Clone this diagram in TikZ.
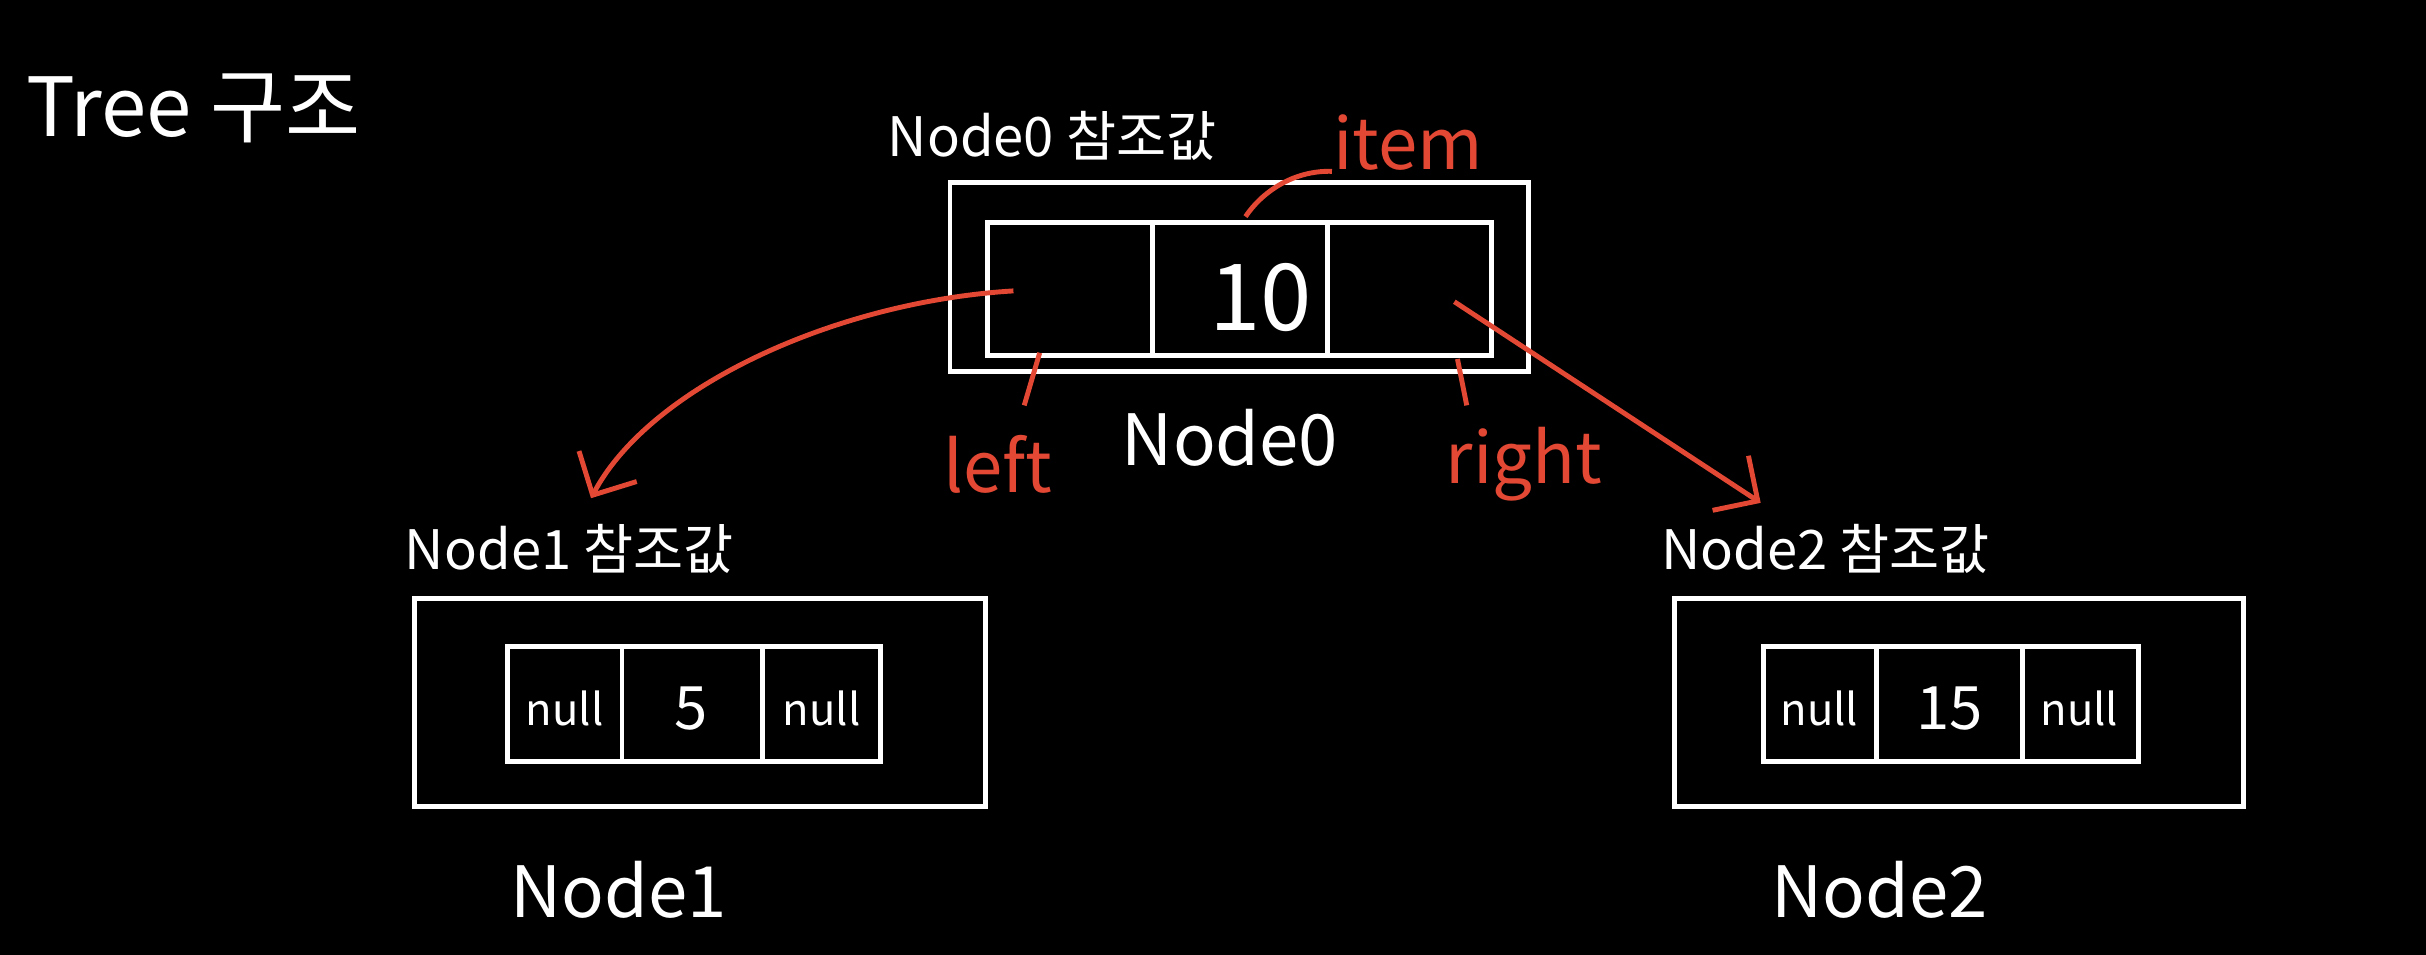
\documentclass[tikz,border=0pt]{standalone}
\usepackage{fontspec}
\setmainfont{Noto Sans CJK KR}
\usetikzlibrary{arrows.meta}
\definecolor{pen}{RGB}{226,72,52}
\begin{document}
\begin{tikzpicture}[x=0.01cm,y=-0.01cm,
  box/.style={draw=white,line width=0.9pt},
  wtxt/.style={text=white,font=\fontsize{13}{15}\selectfont,inner sep=0pt},
  rtxt/.style={text=pen,font=\fontsize{13}{15}\selectfont,inner sep=0pt},
  rline/.style={draw=pen,line width=0.9pt},
  cell/.style={text=white,font=\fontsize{8}{10}\selectfont,inner sep=0pt}]
\fill[black] (0,0) rectangle (1568,617);
\useasboundingbox (0,0) rectangle (1568,617);
\node[wtxt,font=\fontsize{15}{17}\selectfont] (title) at (125,70) {Tree 구조};
% Node0
\node[wtxt,font=\fontsize{10}{12}\selectfont] (l0) at (680,88) {Node0 참조값};
\draw[box] (614,118) rectangle (988,240);
\draw[box] (638,144) rectangle (964,230);
\draw[box] (745,144) -- (745,230) (858,144) -- (858,230);
\node[wtxt,font=\fontsize{17}{19}\selectfont] (v0) at (815,192) {10};
\node[wtxt] (n0) at (795,283) {Node0};
\node[rtxt] (item) at (910,92) {item};
\node[rtxt] (left) at (645,300) {left};
\node[rtxt] (right) at (985,300) {right};
\coordinate (itemA) at (805,140);
\coordinate (leftA) at (672,228);
\coordinate (leftB) at (662,262);
\coordinate (rightA) at (942,232);
\coordinate (rightB) at (948,262);
\coordinate (lp) at (655,188);
\coordinate (rp) at (940,195);
\coordinate (lt) at (382,322);
\coordinate (rt) at (1138,325);
\draw[rline] (itemA) .. controls (815,125) and (835,110) .. (item.south west);
\draw[rline] (leftA) -- (leftB);
\draw[rline] (rightA) -- (rightB);
% Node1
\node[wtxt,font=\fontsize{10}{12}\selectfont] (l1) at (368,355) {Node1 참조값};
\draw[box] (268,387) rectangle (637,521);
\draw[box] (328,418) rectangle (569,492);
\draw[box] (402,418) -- (402,492) (493,418) -- (493,492);
\node[cell] (a1) at (365,458) {null};
\node[cell,font=\fontsize{11}{12}\selectfont] (b1) at (447,458) {5};
\node[cell] (c1) at (531,458) {null};
\node[wtxt] (n1) at (400,575) {Node1};
% Node2
\node[wtxt,font=\fontsize{10}{12}\selectfont] (l2) at (1180,355) {Node2 참조값};
\draw[box] (1082,387) rectangle (1450,521);
\draw[box] (1140,418) rectangle (1382,492);
\draw[box] (1213,418) -- (1213,492) (1307,418) -- (1307,492);
\node[cell] (a2) at (1176,458) {null};
\node[cell,font=\fontsize{11}{12}\selectfont] (b2) at (1260,458) {15};
\node[cell] (c2) at (1344,458) {null};
\node[wtxt] (n2) at (1215,575) {Node2};
% arrows
\draw[rline,-{Straight Barb[length=6pt]}] (lp) .. controls (540,195) and (420,250) .. (lt);
\draw[rline,-{Straight Barb[length=6pt]}] (rp) -- (rt);
\end{tikzpicture}
\end{document}
